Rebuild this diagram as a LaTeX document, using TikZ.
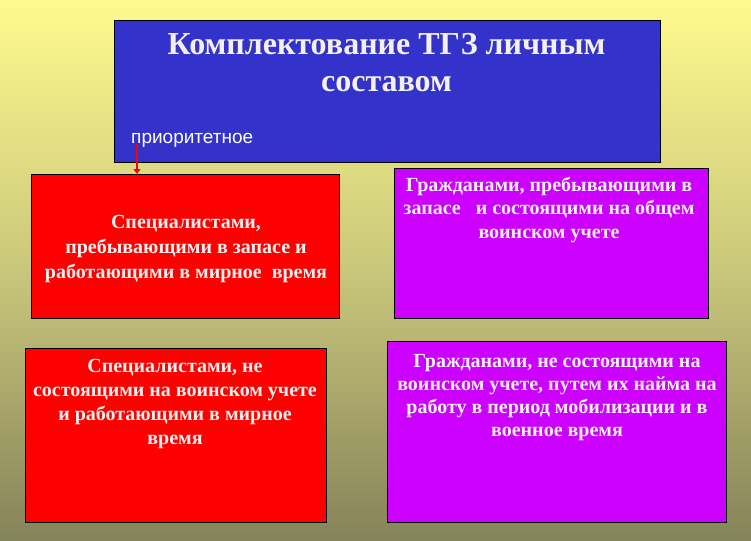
\documentclass[tikz,border=0pt]{standalone}
\usepackage{fontspec}
\setmainfont{Liberation Serif}
\newfontfamily\arialfont{Liberation Sans}
\usetikzlibrary{arrows.meta}
\definecolor{bgtop}{HTML}{FFFA8E}
\definecolor{bgmid}{HTML}{C9C77A}
\definecolor{bgbot}{HTML}{85835A}
\definecolor{titleblue}{HTML}{3333CC}
\definecolor{boxred}{HTML}{FF0000}
\definecolor{boxmag}{HTML}{CC00FF}
\definecolor{txtwhite}{HTML}{F4F0F0}
\tikzset{
  panel/.style={draw=black, line width=1.2pt, anchor=north west, inner sep=0pt},
  boxtext/.style={text=txtwhite, align=center, anchor=base, inner sep=0pt,
    font=\fontsize{20}{#1}\selectfont\bfseries},
}
\begin{document}
\begin{tikzpicture}[x=1pt,y=-1pt]
\useasboundingbox (0,0) rectangle (751,540);
\shade[top color=bgtop, bottom color=bgmid] (0,0) rectangle (751,270);
\shade[top color=bgmid, bottom color=bgbot] (0,270) rectangle (751,540);
% title box
\node[panel, fill=titleblue, minimum width=546pt, minimum height=142pt] (title) at (114,20) {};
\node[text=txtwhite, align=center, anchor=base, inner sep=0pt,
  font=\fontsize{32}{37}\selectfont\bfseries] (titletext) at (386.5,92)
  {Комплектование ТГЗ личным\\составом};
\node[text=white, anchor=base west, inner sep=0pt, font=\arialfont\fontsize{19}{20}\selectfont] (prio) at (131,143) {приоритетное};
% boxes
\node[panel, fill=boxred, minimum width=308pt, minimum height=144pt] (r1) at (31,174) {};
\node[panel, fill=boxmag, minimum width=314pt, minimum height=150pt] (m1) at (394,168) {};
\node[panel, fill=boxred, minimum width=301pt, minimum height=174pt] (r2) at (25,348) {};
\node[panel, fill=boxmag, minimum width=339pt, minimum height=181pt] (m2) at (387,341) {};
% texts (anchor = baseline of last line)
\node[boxtext=25] (r1t) at (186,278) {Специалистами,\\пребывающими в запасе и\\работающими в мирное\ \ время};
\node[boxtext=23.5] (m1t) at (549,238) {Гражданами, пребывающими в\\запасе\ \ \ и состоящими на общем\\воинском учете};
\node[boxtext=24] (r2t) at (175,444) {Специалистами, не\\состоящими на воинском учете\\и работающими в мирное\\время};
\node[boxtext=23] (m2t) at (557,436) {Гражданами, не состоящими на\\воинском учете, путем их найма на\\работу в период мобилизации и в\\военное время};
% arrow
\coordinate (arrs) at (137,144);
\draw[red, line width=2.6pt, -{Triangle[length=5pt,width=7pt]}] (arrs) -- (arrs |- r1.north);
\end{tikzpicture}
\end{document}
